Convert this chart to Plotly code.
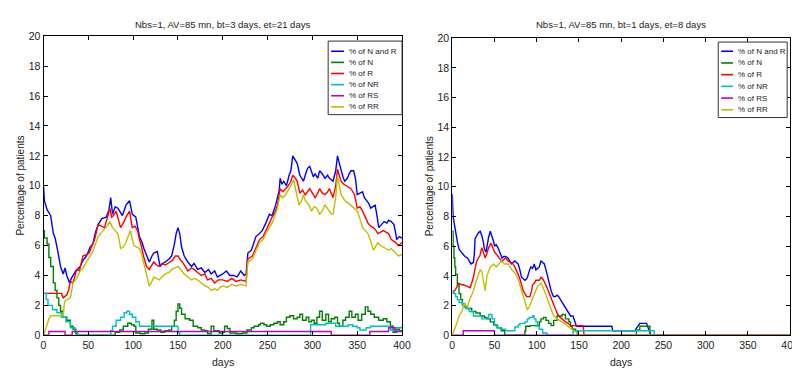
import plotly.graph_objects as go

W, H = 800, 370

# ---------------- data: left panel (bt=3 days, et=21 days) ----------------
L_TITLE = "Nbs=1, AV=85 mn, bt=3 days, et=21 days"
R_TITLE = "Nbs=1, AV=85 mn, bt=1 days, et=8 days"
SERIES_NAMES = ["% of N and R", "% of N", "% of R", "% of NR", "% of RS", "% of RR"]
X_TICKS = [0, 50, 100, 150, 200, 250, 300, 350, 400]
Y_TICKS = [0, 2, 4, 6, 8, 10, 12, 14, 16, 18, 20]

L_NR = [[0,10.0],[1,9.0],[4,8.4],[8,8.0],[11,6.8],[13,6.5],[16,5.6],[19,4.6],[22,4.1],[24,4.5],[26,4.0],[29,3.5],[31,3.8],[33,4.0],[36,4.3],[41,4.6],[44,5.0],[48,5.3],[52,5.9],[55,6.1],[58,6.9],[61,7.4],[65,7.8],[70,7.9],[73,8.4],[75,9.2],[77,8.1],[80,8.6],[83,8.5],[86,8.2],[88,8.0],[92,8.7],[96,9.0],[99,8.1],[103,7.9],[107,6.6],[110,6.2],[112,5.8],[115,5.4],[118,4.9],[121,5.3],[123,5.5],[127,5.6],[130,4.6],[133,4.8],[136,4.9],[140,5.1],[143,5.3],[146,6.1],[148,6.8],[150,7.2],[152,6.8],[154,5.9],[157,5.3],[161,4.9],[165,4.6],[168,4.8],[172,4.4],[176,4.5],[180,4.2],[184,4.4],[187,4.1],[191,4.3],[194,3.9],[197,4.0],[200,4.1],[204,4.3],[208,4.0],[212,4.0],[216,3.9],[220,4.3],[224,4.0],[226,4.1],[228,5.5],[232,5.7],[235,6.2],[237,6.6],[241,6.8],[244,7.0],[248,7.5],[252,8.1],[255,8.0],[257,8.3],[259,8.7],[261,9.2],[263,9.7],[264,10.5],[266,10.1],[268,10.3],[271,10.0],[274,10.7],[276,11.0],[278,12.0],[281,11.7],[283,11.5],[286,10.7],[288,10.5],[290,10.3],[293,10.9],[295,11.2],[297,11.3],[299,11.0],[301,10.6],[303,10.8],[306,10.5],[308,11.0],[311,10.8],[314,10.5],[317,10.7],[319,10.5],[323,10.3],[326,11.0],[328,12.0],[330,11.5],[332,11.0],[334,10.6],[336,10.3],[339,10.5],[341,10.8],[343,11.0],[346,11.0],[348,10.5],[350,9.4],[353,9.5],[356,9.6],[358,9.2],[361,9.0],[363,8.8],[365,8.5],[368,8.6],[370,8.7],[372,8.0],[374,7.2],[377,7.4],[380,7.6],[383,7.5],[385,7.7],[388,7.6],[391,7.4],[393,6.8],[394,6.4],[397,6.6],[400,6.5]]

L_N = [[0,7.0],[1,6.5],[4,6.1],[6,5.2],[8,4.6],[11,3.5],[13,3.0],[15,2.5],[17,2.0],[19,1.6],[22,1.2],[26,1.0],[30,0.6],[33,0.4],[36,0.1],[38,0.0],[78,0.0],[80,0.2],[85,0.35],[89,0.6],[94,0.8],[98,0.7],[101,0.6],[103,0.15],[108,0.1],[113,0.15],[117,0.4],[121,1.0],[123,0.4],[127,0.35],[131,0.2],[135,0.3],[140,0.35],[143,0.6],[146,1.0],[148,1.6],[150,2.1],[152,1.8],[154,1.4],[158,1.1],[163,1.0],[167,0.6],[172,0.5],[176,0.35],[180,0.3],[183,0.1],[187,0.6],[190,0.3],[196,0.15],[200,0.2],[202,0.6],[205,0.45],[208,0.15],[215,0.1],[222,0.15],[227,0.35],[232,0.5],[235,0.6],[240,0.7],[242,0.8],[246,0.7],[249,0.6],[253,0.7],[257,0.8],[261,0.9],[264,0.7],[268,0.9],[271,1.2],[275,1.3],[279,1.1],[283,1.2],[286,1.4],[289,1.0],[293,1.2],[296,0.9],[299,1.0],[302,0.8],[305,1.2],[308,1.6],[311,1.0],[315,1.4],[318,0.9],[321,1.1],[325,1.2],[328,0.8],[330,0.6],[334,1.0],[337,1.2],[341,1.6],[344,1.2],[348,1.4],[351,1.0],[355,1.4],[359,1.9],[362,1.6],[365,1.4],[369,1.2],[374,1.0],[379,1.1],[383,0.9],[387,0.6],[390,0.2],[394,0.4],[397,0.3],[400,0.35]]

L_R = [[0,2.8],[20,2.8],[22,2.5],[26,2.7],[28,3.0],[30,3.6],[33,3.5],[37,4.4],[40,4.3],[44,5.3],[48,5.4],[51,5.5],[54,6.0],[57,6.4],[61,7.4],[65,7.3],[68,7.2],[71,7.8],[74,8.5],[76,7.9],[78,8.0],[81,8.3],[84,7.6],[86,7.2],[89,7.5],[92,7.9],[96,8.3],[99,7.2],[102,7.3],[105,7.0],[107,6.4],[109,6.0],[112,5.2],[115,4.6],[118,4.4],[121,4.7],[123,4.9],[126,4.7],[129,4.6],[132,4.8],[136,4.7],[141,4.9],[144,5.0],[147,5.3],[150,5.3],[153,5.0],[155,4.9],[158,4.6],[161,4.3],[165,4.5],[168,4.4],[172,4.2],[176,4.0],[180,4.1],[183,3.7],[187,3.8],[191,3.5],[195,3.7],[200,3.7],[205,3.6],[210,3.8],[215,3.6],[220,3.7],[226,3.6],[228,5.1],[233,5.3],[237,5.9],[241,6.4],[245,6.6],[248,7.0],[252,7.6],[255,7.9],[258,8.2],[261,8.7],[264,9.8],[267,9.6],[270,9.8],[273,10.0],[276,10.3],[278,10.7],[281,10.5],[283,10.3],[286,9.5],[289,9.7],[292,9.4],[295,9.6],[297,9.8],[300,9.5],[303,9.2],[306,9.5],[308,9.8],[311,9.5],[314,9.4],[317,9.6],[319,9.8],[323,9.2],[326,10.0],[328,11.1],[330,10.7],[332,10.3],[335,10.1],[338,10.0],[341,9.9],[343,9.8],[347,9.4],[350,8.5],[353,8.6],[356,8.3],[359,7.9],[362,7.5],[365,7.3],[368,7.2],[371,7.0],[373,6.8],[376,6.9],[379,7.0],[382,6.9],[385,6.8],[388,6.4],[391,6.3],[393,6.2],[396,6.0],[400,6.2]]

L_NRR = [[0,2.8],[3,2.4],[5,2.0],[10,1.7],[15,1.5],[20,1.2],[25,0.9],[30,0.5],[35,0.2],[38,0.0],[73,0.0],[75,0.3],[77,0.6],[81,1.0],[86,1.2],[90,1.5],[93,1.6],[96,1.4],[99,1.2],[103,0.9],[107,0.6],[147,0.6],[150,0.15],[152,0.0],[297,0.0],[298,0.7],[315,0.8],[322,0.8],[326,0.6],[338,0.6],[340,0.7],[345,0.6],[350,0.5],[353,0.35],[360,0.5],[365,0.6],[384,0.6],[387,0.35],[392,0.5],[400,0.6]]

L_RS = [[0,0.0],[6,0.25],[22,0.25],[24,0.0],[30,0.0],[32,0.25],[319,0.25],[321,0.0],[362,0.0],[364,0.25],[383,0.25],[385,0.5],[390,0.5],[392,0.25],[400,0.25]]

L_RR = [[0,0.0],[3,0.6],[6,1.1],[8,1.3],[22,1.3],[23,2.0],[24,2.3],[30,2.5],[33,3.5],[37,3.8],[41,4.3],[44,4.5],[48,4.9],[51,5.2],[55,5.6],[58,6.1],[61,6.6],[65,6.9],[68,7.1],[71,7.3],[74,7.6],[77,7.2],[80,7.0],[83,6.8],[85,6.2],[86,5.8],[89,5.9],[92,6.2],[95,6.7],[97,7.0],[99,6.4],[101,6.0],[104,5.9],[107,5.8],[110,5.3],[113,4.6],[116,3.8],[118,3.3],[121,3.6],[123,3.9],[126,3.8],[129,3.7],[132,3.9],[136,4.1],[140,4.2],[143,4.4],[147,4.5],[150,4.6],[153,4.4],[157,4.1],[161,3.9],[165,3.7],[168,3.8],[172,3.7],[176,3.5],[180,3.3],[184,3.2],[187,3.0],[191,3.1],[194,3.0],[197,3.2],[200,3.3],[205,3.2],[210,3.4],[215,3.3],[220,3.4],[226,3.3],[228,4.9],[233,5.1],[237,5.7],[241,6.2],[245,6.4],[248,6.8],[252,7.2],[255,7.5],[258,8.0],[261,8.5],[264,9.4],[267,9.2],[270,9.4],[273,9.7],[276,10.0],[279,10.4],[282,9.6],[285,8.7],[288,9.0],[290,9.4],[292,9.0],[294,8.9],[297,8.6],[299,8.3],[302,8.6],[305,8.5],[308,8.1],[311,8.3],[314,8.7],[317,8.5],[319,8.3],[321,8.1],[323,8.1],[326,9.2],[328,10.7],[330,10.0],[332,9.4],[335,9.1],[338,8.9],[341,8.8],[343,8.7],[346,8.5],[350,8.3],[353,7.8],[356,7.2],[359,7.0],[362,6.8],[365,6.3],[368,5.7],[371,6.0],[373,6.2],[376,6.0],[379,5.9],[382,5.8],[385,5.7],[388,5.8],[390,5.7],[393,5.5],[396,5.3],[400,5.4]]

# ---------------- data: right panel (bt=1 days, et=8 days) ----------------
R_NR = [[0,9.5],[1,8.0],[3,7.3],[4,6.9],[6,6.3],[8,5.8],[10,5.6],[12,5.5],[15,5.3],[18,5.2],[20,5.0],[22,4.8],[25,4.9],[26,5.4],[27,6.5],[29,6.7],[31,6.9],[33,7.0],[35,6.7],[37,6.2],[38,5.8],[40,5.6],[41,6.0],[43,6.6],[45,7.0],[47,6.7],[49,6.3],[50,6.0],[52,6.1],[54,5.9],[57,5.4],[59,5.2],[61,5.3],[63,5.3],[66,5.2],[68,5.0],[70,4.8],[72,4.9],[74,5.0],[76,4.9],[78,4.8],[80,4.4],[82,3.9],[84,3.8],[86,3.7],[88,3.8],[89,3.9],[91,4.3],[93,4.6],[95,4.5],[97,4.8],[99,4.4],[101,4.5],[103,4.6],[105,5.0],[107,4.9],[109,4.8],[111,4.4],[113,3.9],[115,3.5],[117,3.0],[119,2.7],[120,2.6],[122,2.6],[124,2.7],[126,2.6],[128,2.4],[130,2.3],[132,2.1],[134,1.9],[136,1.7],[138,1.5],[140,1.3],[143,1.3],[145,0.9],[147,0.6],[189,0.6],[190,0.3],[216,0.3],[218,0.5],[222,0.8],[230,0.8],[232,0.5],[235,0.0],[400,0.0]]

R_N = [[0,7.0],[1,6.0],[2,5.2],[3,4.6],[4,4.1],[6,3.4],[8,2.8],[10,2.4],[12,2.1],[15,1.9],[18,1.8],[23,1.6],[28,1.5],[33,1.3],[38,1.2],[41,1.1],[45,0.9],[49,0.7],[53,0.5],[58,0.3],[62,0.0],[84,0.0],[86,0.3],[87,0.6],[92,0.65],[96,0.65],[101,0.65],[103,0.9],[105,1.1],[108,1.2],[111,1.0],[114,0.8],[117,0.65],[120,1.0],[124,1.3],[127,1.3],[130,1.4],[134,1.1],[138,0.9],[140,0.6],[142,0.4],[146,0.3],[148,0.0],[217,0.0],[218,0.35],[222,0.6],[233,0.6],[234,0.0],[400,0.0]]

R_R = [[0,2.8],[3,3.0],[6,3.3],[8,3.5],[11,3.4],[13,3.4],[17,3.3],[21,3.2],[23,3.5],[25,3.9],[27,4.5],[29,5.0],[31,5.2],[33,5.4],[35,5.9],[37,5.6],[39,5.2],[41,5.5],[43,5.9],[46,6.2],[48,5.9],[50,5.6],[53,5.4],[55,5.2],[57,5.1],[59,5.0],[61,5.1],[63,5.2],[66,5.0],[69,4.9],[72,4.8],[74,4.6],[76,4.4],[78,4.1],[80,3.8],[82,3.4],[84,3.0],[86,2.8],[88,2.6],[92,2.6],[94,3.0],[95,3.4],[97,3.5],[99,3.7],[103,3.7],[105,3.9],[107,3.8],[109,3.6],[111,3.4],[113,3.1],[115,2.8],[117,2.5],[119,2.2],[122,1.8],[124,1.5],[126,1.3],[128,1.2],[131,1.0],[134,0.9],[137,0.8],[140,0.65],[155,0.65],[156,0.0],[400,0.0]]

R_NRR = [[0,3.0],[2,2.8],[4,2.6],[6,2.4],[8,2.2],[12,2.0],[16,1.8],[20,1.6],[25,1.3],[31,1.3],[35,1.1],[40,1.1],[43,1.4],[47,1.1],[50,0.65],[54,0.5],[57,0.4],[63,0.3],[72,0.3],[74,0.55],[78,0.7],[80,0.8],[86,0.9],[89,1.1],[91,1.2],[95,1.3],[97,1.1],[99,0.9],[101,0.6],[103,0.4],[107,0.15],[112,0.0],[142,0.0],[143,0.3],[238,0.3],[239,0.0],[400,0.0]]

R_RS = [[0,0.0],[12,0.0],[13,0.3],[49,0.3],[50,0.0],[400,0.0]]

R_RR = [[0,0.0],[3,0.4],[6,0.9],[8,1.3],[10,1.5],[12,1.7],[14,2.1],[16,2.0],[18,1.9],[20,2.3],[23,2.7],[25,3.0],[27,3.4],[29,3.8],[31,4.1],[33,4.4],[35,4.3],[37,3.6],[39,3.0],[41,4.0],[43,4.3],[45,4.6],[47,4.7],[49,4.8],[52,4.6],[55,4.8],[58,5.0],[60,4.9],[62,4.8],[66,4.8],[68,4.6],[70,4.4],[72,4.3],[74,4.2],[76,4.0],[78,3.8],[80,3.4],[82,3.0],[84,2.6],[86,2.2],[88,1.9],[89,1.7],[91,1.9],[93,2.2],[95,2.5],[97,2.8],[99,3.1],[101,3.3],[103,3.4],[105,3.5],[107,3.3],[109,3.0],[111,2.7],[113,2.4],[115,2.0],[117,1.7],[119,1.5],[120,1.3],[122,1.2],[124,1.1],[127,1.0],[130,0.9],[133,0.8],[136,0.65],[139,0.5],[142,0.4],[145,0.3],[147,0.2],[151,0.0],[400,0.0]]

COLORS = ["#0000ff", "#008000", "#ff0000", "#00bfbf", "#bf00bf", "#bfbf00"]
SHAPES = ["linear", "hv", "linear", "hv", "hv", "linear"]

FONT = "Liberation Sans, Arial, sans-serif"


def px(x):
    return x / W


def py(y):
    return 1 - y / H


fig = go.Figure()

left_series = [L_NR, L_N, L_R, L_NRR, L_RS, L_RR]
right_series = [R_NR, R_N, R_R, R_NRR, R_RS, R_RR]

for series, xa, ya in [(left_series, "x", "y"), (right_series, "x2", "y2")]:
    for name, pts, col, shp in zip(SERIES_NAMES, series, COLORS, SHAPES):
        fig.add_trace(go.Scatter(
            x=[p[0] for p in pts], y=[p[1] for p in pts],
            mode="lines", name=name, line=dict(color=col, width=1.4, shape=shp),
            xaxis=xa, yaxis=ya, showlegend=False, cliponaxis=True,
        ))

# plot area pixel boxes
L_BOX = (33, 397, 23, 332)
R_BOX = (448, 791, 25, 332)

axis_common = dict(
    showgrid=False, zeroline=False, showline=True, linecolor="black", linewidth=1,
    mirror="ticks", ticks="inside", ticklen=4, tickcolor="black", tickwidth=1,
    tickfont=dict(family=FONT, size=10.5, color="#222"),
)

fig.update_layout(
    width=W, height=H, margin=dict(l=0, r=0, t=0, b=0),
    paper_bgcolor="white", plot_bgcolor="white",
    xaxis=dict(domain=[px(L_BOX[0]), px(L_BOX[1])], range=[0, 400], tickvals=X_TICKS, anchor="y", **axis_common),
    yaxis=dict(domain=[py(L_BOX[3]), py(L_BOX[2])], range=[0, 20], tickvals=Y_TICKS, anchor="x", **axis_common),
    xaxis2=dict(domain=[px(R_BOX[0]), px(R_BOX[1])], range=[0, 400], tickvals=X_TICKS, anchor="y2", **axis_common),
    yaxis2=dict(domain=[py(R_BOX[3]), py(R_BOX[2])], range=[0, 20], tickvals=Y_TICKS, anchor="x2", **axis_common),
    showlegend=False,
)

ann = []
shapes = []
# titles and axis labels
for box, title in [(L_BOX, L_TITLE), (R_BOX, R_TITLE)]:
    cx = (box[0] + box[1]) / 2
    ann.append(dict(x=px(cx), y=py(11), xref="paper", yref="paper", text=title, showarrow=False,
                    font=dict(family=FONT, size=9.5, color="#222"), xanchor="center", yanchor="middle"))
    ann.append(dict(x=px(cx), y=py(360), xref="paper", yref="paper", text="days", showarrow=False,
                    font=dict(family=FONT, size=10.5, color="#222"), xanchor="center", yanchor="middle"))
for xpix, box in [(10, L_BOX), (425, R_BOX)]:
    cy = (box[2] + box[3]) / 2
    ann.append(dict(x=px(xpix), y=py(cy), xref="paper", yref="paper", text="Percentage of patients",
                    showarrow=False, textangle=-90, font=dict(family=FONT, size=10, color="#222"),
                    xanchor="center", yanchor="middle"))

# custom legends (box, sample lines, labels)
for (bx0, bx1, by0, by1, lx0, lx1, tx, ry0, dy) in [
    (322, 397, 28, 104, 325, 338, 341, 38.5, 11.5),
    (718, 788, 29, 107, 721, 733, 736, 38.5, 12.1),
]:
    shapes.append(dict(type="rect", xref="paper", yref="paper", x0=px(bx0), x1=px(bx1), y0=py(by1), y1=py(by0),
                       line=dict(color="#333", width=1), fillcolor="white", layer="above"))
    for i, (name, col) in enumerate(zip(SERIES_NAMES, COLORS)):
        yy = ry0 + i * dy
        shapes.append(dict(type="line", xref="paper", yref="paper", x0=px(lx0), x1=px(lx1), y0=py(yy), y1=py(yy),
                           line=dict(color=col, width=1.6), layer="above"))
        ann.append(dict(x=px(tx), y=py(yy), xref="paper", yref="paper", text=name, showarrow=False,
                        font=dict(family=FONT, size=8, color="#222"), xanchor="left", yanchor="middle"))

fig.update_layout(annotations=ann, shapes=shapes)
fig.write_html("out.html")
